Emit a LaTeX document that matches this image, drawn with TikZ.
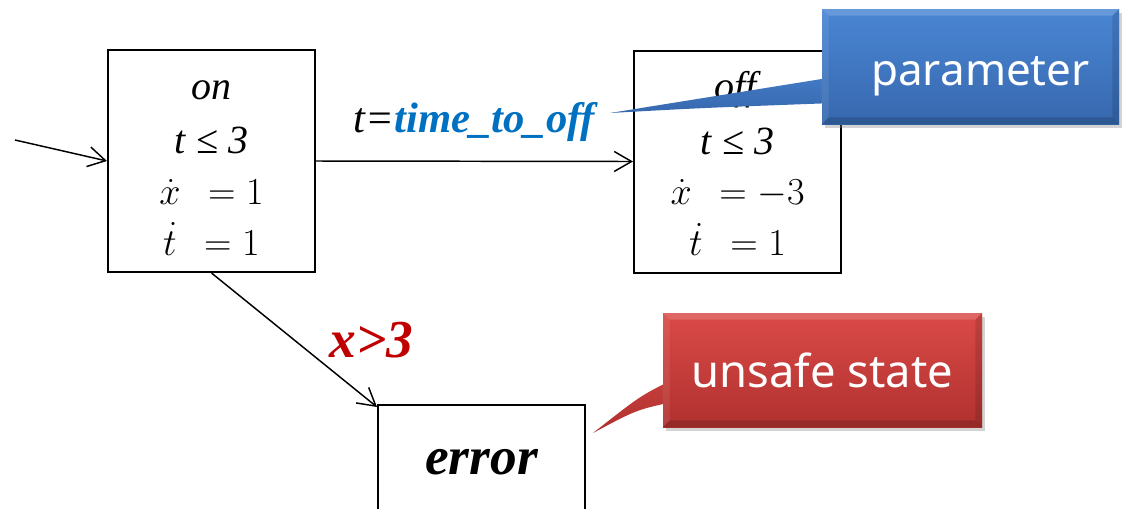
\documentclass[tikz,border=0pt]{standalone}
\usepackage{fontspec}
\setmainfont{Liberation Serif}
\newfontfamily\calloutfont{Noto Sans}
\usetikzlibrary{arrows.meta,shadows,calc}
\definecolor{paramblue}{HTML}{0070C0}
\definecolor{guardred}{HTML}{C00000}
\definecolor{blueTop}{HTML}{4A86D4}
\definecolor{blueBot}{HTML}{3768AE}
\definecolor{redTop}{HTML}{DA4A47}
\definecolor{redBot}{HTML}{B0312F}
% a line of the flow equations, set slightly larger than the invariant text
\newcommand{\flowline}[1]{\scalebox{1.15}{$#1$}}
% first line of a location label, with a fixed top height
\newcommand{\locname}[1]{\rule{0pt}{24pt}\textit{#1}}
% bevelled rim of a callout box: light top/left, dark bottom/right
\newcommand{\bevelrim}[1]{%
  \fill[white, opacity=0.16] (#1.north west) -- (#1.north east)
    -- ($(#1.north east)+(-7,7)$) -- ($(#1.north west)+(7,7)$) -- cycle;
  \fill[white, opacity=0.08] (#1.north west) -- ($(#1.north west)+(7,7)$)
    -- ($(#1.south west)+(7,-7)$) -- (#1.south west) -- cycle;
  \fill[black, opacity=0.16] (#1.south west) -- ($(#1.south west)+(7,-7)$)
    -- ($(#1.south east)+(-7,-7)$) -- (#1.south east) -- cycle;
  \fill[black, opacity=0.12] (#1.north east) -- (#1.south east)
    -- ($(#1.south east)+(-7,-7)$) -- ($(#1.north east)+(-7,7)$) -- cycle;}
\begin{document}
\begin{tikzpicture}[x=0.75pt,y=-0.75pt,
  statebox/.style={draw=black, line width=1.5pt, minimum width=155.25pt,
    minimum height=166.5pt, inner sep=0pt, align=center,
    font=\fontsize{30}{38}\selectfont},
  trans/.style={line width=1.1pt,
    -{Straight Barb[length=13pt,width=15pt,line width=1.1pt]}},
  callout/.style={inner sep=0pt, text=white,
    drop shadow={shadow xshift=2pt, shadow yshift=-3pt, opacity=0.35}}]
\useasboundingbox (0,0) rectangle (1123,508);
\begin{scope}
\clip (0,0) rectangle (1123,508);

% locations
\node[statebox] (on) at (211.5,161) {\locname{on}\\[3pt] \textit{t ≤ 3}\\
  \flowline{\dot{x}\;\,= 1}\\
  \flowline{\dot{t}\;\,= 1}};
\node[statebox] (off) at (737.5,161.5) {\locname{off}\\[3pt] \textit{t ≤ 3}\\
  \flowline{\dot{x}\;\,= -3}\\
  \flowline{\dot{t}\;\,= 1}};
\node[draw=black, line width=1.5pt, minimum width=155.25pt, minimum height=85.5pt,
  inner sep=0pt, font=\fontsize{40}{48}\selectfont\bfseries\itshape]
  (error) at (481.5,462) {error};

% transitions
\coordinate (init) at (15,140);
\draw[trans] (init) -- (on.west);
\draw[trans] (on.east) -- (off.west)
  node[midway, anchor=base, yshift=21.75pt, inner sep=0pt,
    font=\fontsize{32}{36}\selectfont]
  {\textit{t=}\textcolor{paramblue}{\bfseries\itshape time\_to\_off}};
\draw[trans] (on.south) -- ($(error.north west)+(0,3)$)
  node[midway, anchor=west, xshift=26pt, inner sep=0pt, text=guardred,
    font=\fontsize{40}{44}\selectfont\bfseries\itshape] {x>3};

% callouts
\coordinate (ptip) at (610,113);
\shade[top color=blueTop!60!blueBot, bottom color=blueBot]
  (834,77) -- (ptip) .. controls (700,108) .. (834,103) -- cycle;
\node[callout, top color=blueTop, bottom color=blueBot,
  minimum width=222.75pt, minimum height=86.25pt] (param) at (970.5,66.5) {};
\bevelrim{param}
\node[anchor=base, inner sep=0pt, text=white,
  font=\calloutfont\fontsize{33}{38}\selectfont]
  (paramtext) at ($(param.center)+(10,18.5)$) {parameter};

\coordinate (utip) at (593,433);
\shade[top color=redTop!50!redBot, bottom color=redBot]
  (672,380) .. controls (640,396) .. (utip) .. controls (636,410) .. (672,402) -- cycle;
\node[callout, top color=redTop, bottom color=redBot,
  minimum width=239.25pt, minimum height=85.5pt,
  font=\calloutfont\fontsize{34}{40}\selectfont] (unsafe) at (822.5,370) {unsafe state};
\bevelrim{unsafe}
\end{scope}
\end{tikzpicture}
\end{document}
